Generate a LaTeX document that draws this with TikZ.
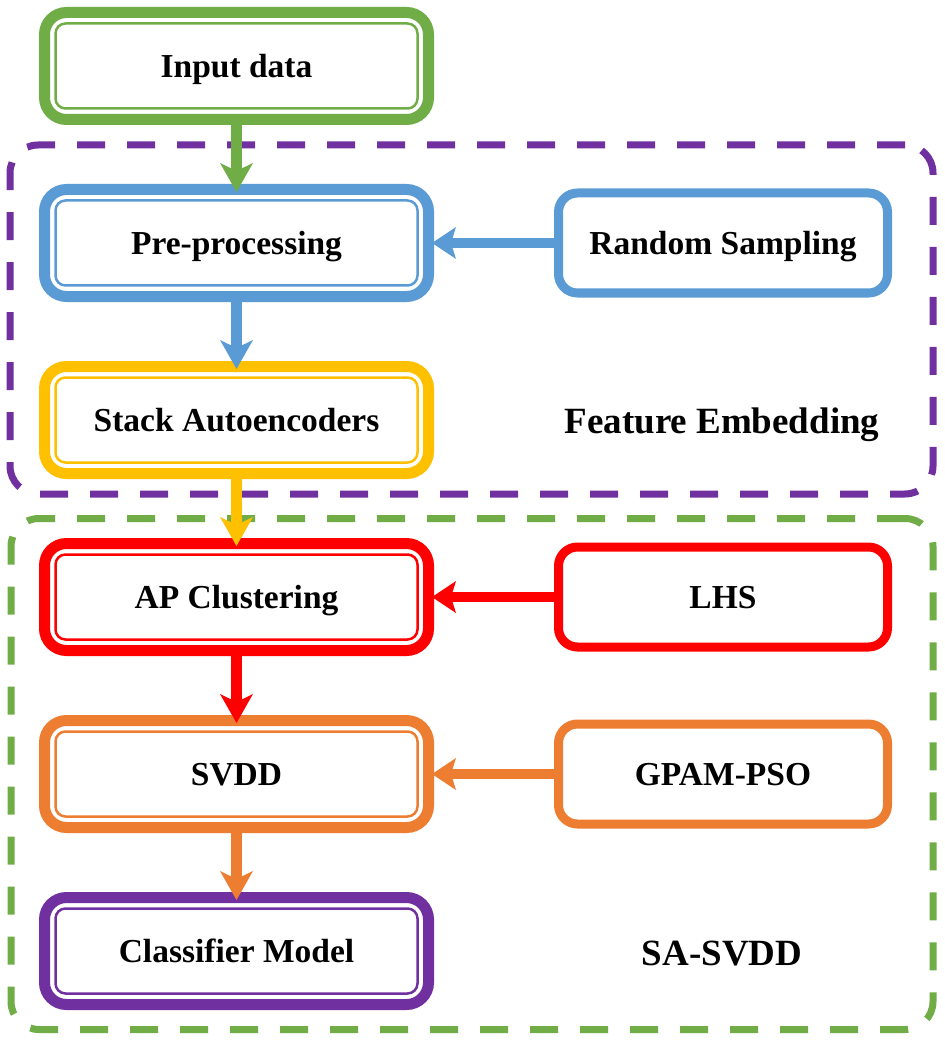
\documentclass[tikz,border=0pt]{standalone}
\usepackage{fontspec}
\setmainfont{Liberation Serif}
\usetikzlibrary{arrows.meta}
\definecolor{cgreen}{HTML}{70AD47}
\definecolor{cblue}{HTML}{5B9BD5}
\definecolor{cgold}{HTML}{FFC000}
\definecolor{cred}{HTML}{FF0000}
\definecolor{corange}{HTML}{ED7D31}
\definecolor{cpurple}{HTML}{7030A0}
\newcommand\innerframe[2]{\draw[#1, line width=2.5pt, rounded corners=10pt] ([xshift=11pt,yshift=-11pt]#2.north west) rectangle ([xshift=-11pt,yshift=11pt]#2.south east);}
\begin{document}
\begin{tikzpicture}[x=1pt,y=-1pt,
  mainbox/.style={draw, line width=11pt, rounded corners=22pt, minimum width=384pt, minimum height=107pt, inner sep=0pt, outer sep=0pt, fill=white, font=\fontsize{33.5}{40}\selectfont\bfseries, text height=23pt, text depth=0pt},
  sidebox/.style={draw, line width=9pt, rounded corners=19pt, minimum width=329pt, minimum height=100pt, inner sep=0pt, outer sep=0pt, fill=white, font=\fontsize{33.5}{40}\selectfont\bfseries, text height=23pt, text depth=0pt},
  groupbox/.style={draw, line width=7pt, dash pattern=on 28pt off 22pt, rounded corners=28pt, inner sep=0pt, outer sep=0pt},
  lbl/.style={font=\fontsize{37}{44}\selectfont\bfseries, inner sep=0pt, anchor=base},
  vflow/.style={line width=10.5pt, shorten >=-2.5pt, -{Stealth[length=29pt,width=33pt,inset=8pt,line width=0pt]}},
  hflow/.style={line width=10pt, shorten >=3.5pt, -{Stealth[length=24pt,width=32pt,inset=5pt,line width=0pt]}}
]
\useasboundingbox (0,0) rectangle (944,1040);
\fill[white] (0,0) rectangle (944,1040);

% group frames
\node[groupbox, draw=cpurple, minimum width=923pt, minimum height=349pt] (gfe) at (471.5,319.5) {};
\node[groupbox, draw=cgreen, minimum width=922pt, minimum height=511pt] (gsa) at (472,774) {};

% main column
\node[mainbox, draw=cgreen] (in) at (236.5,66) {Input data};
\node[mainbox, draw=cblue] (pre) at (236.5,243) {Pre-processing};
\node[mainbox, draw=cgold] (sae) at (236.5,420) {Stack Autoencoders};
\node[mainbox, draw=cred] (ap) at (236.5,597) {AP Clustering};
\node[mainbox, draw=corange] (svdd) at (236.5,774) {SVDD};
\node[mainbox, draw=cpurple] (cm) at (236.5,951) {Classifier Model};
\innerframe{cgreen}{in}
\innerframe{cblue}{pre}
\innerframe{cgold}{sae}
\innerframe{cred}{ap}
\innerframe{corange}{svdd}
\innerframe{cpurple}{cm}

% side boxes
\node[sidebox, draw=cblue] (rs) at (723,243) {Random Sampling};
\node[sidebox, draw=cred] (lhs) at (723,597) {LHS};
\node[sidebox, draw=corange] (gp) at (723,774) {GPAM-PSO};

% group labels
\node[lbl] (lfe) at (722,433) {Feature Embedding};
\node[lbl] (lsa) at (722,965) {SA-SVDD};

% connectors
\draw[vflow, cgreen] (in.south) -- (pre.north);
\draw[vflow, cblue] (pre.south) -- (sae.north);
\draw[vflow, cgold] (sae.south) -- (ap.north);
\draw[vflow, cred] (ap.south) -- (svdd.north);
\draw[vflow, corange] (svdd.south) -- (cm.north);
\draw[hflow, cblue] (rs.west) -- (pre.east);
\draw[hflow, cred] (lhs.west) -- (ap.east);
\draw[hflow, corange] (gp.west) -- (svdd.east);
\end{tikzpicture}
\end{document}
